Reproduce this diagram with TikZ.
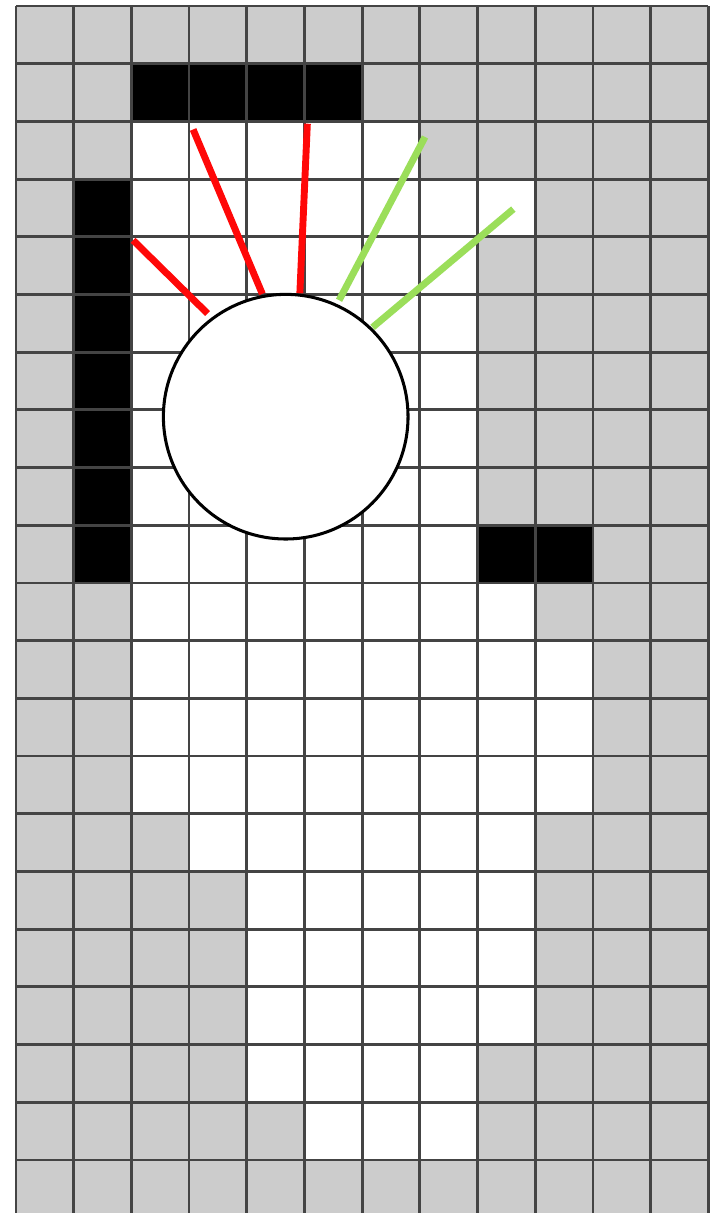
\documentclass[tikz,border=0pt]{standalone}
\definecolor{cellgray}{RGB}{204,204,204}
\definecolor{gridgray}{RGB}{68,68,68}
\definecolor{rayhit}{RGB}{255,8,8}
\definecolor{rayfree}{RGB}{155,222,90}

\begin{document}
\begin{tikzpicture}[y=-1cm,
    free/.style={fill=white},
    wall/.style={fill=black},
    ray/.style={line width=3.4pt},
    robot/.style={draw, circle, fill=white, line width=1.5pt, inner sep=0pt, minimum size=4.24cm}]
  \useasboundingbox (-0.277,-0.104) rectangle (12.104,20.92);
  \clip (-0.277,-0.104) rectangle (12.104,20.92);
  % --- Unknown cells (background) ---
  \fill[cellgray] (0,0) rectangle (12,21);
  % --- Free cells: row/first/last column ---
  \foreach \r/\a/\b in {2/2/6, 3/2/8, 4/2/7, 5/2/7, 6/2/7, 7/2/7, 8/2/7, 9/2/7,
                        10/2/8, 11/2/9, 12/2/9, 13/2/9, 14/3/8, 15/4/8, 16/4/8,
                        17/4/8, 18/4/7, 19/5/7} {
    \fill[free] (\a,\r) rectangle ({\b+1},{\r+1});
  }
  % --- Occupied cells ---
  \fill[wall] (2,1) rectangle (6,2);
  \fill[wall] (1,3) rectangle (2,10);
  \fill[wall] (8,9) rectangle (10,10);
  % --- Grid ---
  \draw[gridgray, line width=1.4pt] (0,0) grid (12,21);
  % --- Laser rays ---
  \coordinate (h1s) at (3.32,5.33);  \coordinate (h1e) at (2.03,4.06);
  \coordinate (h2s) at (4.27,4.99);  \coordinate (h2e) at (3.07,2.14);
  \coordinate (h3s) at (4.92,4.98);  \coordinate (h3e) at (5.05,2.04);
  \coordinate (f1s) at (5.60,5.10);  \coordinate (f1e) at (7.09,2.27);
  \coordinate (f2s) at (6.18,5.57);  \coordinate (f2e) at (8.62,3.52);
  \foreach \s/\e in {h1s/h1e, h2s/h2e, h3s/h3e} {
    \draw[ray, rayhit] (\s) -- (\e);
  }
  \foreach \s/\e in {f1s/f1e, f2s/f2e} {
    \draw[ray, rayfree] (\s) -- (\e);
  }
  % --- Robot ---
  \node[robot] (bot) at (4.675,7.118) {};
\end{tikzpicture}
\end{document}
